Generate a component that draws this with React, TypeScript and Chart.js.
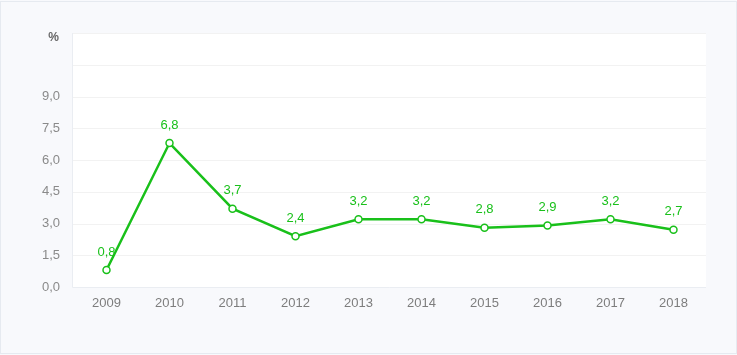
import React, { useEffect, useRef } from "react";
import { Chart, registerables } from "chart.js";

Chart.register(...registerables);

const years = ["2009", "2010", "2011", "2012", "2013", "2014", "2015", "2016", "2017", "2018"];
const values = [0.8, 6.8, 3.7, 2.4, 3.2, 3.2, 2.8, 2.9, 3.2, 2.7];
const yTicks = [0, 1.5, 3, 4.5, 6, 7.5, 9, 10.5, 12];
const yUnitLabel = "%";

const FONT = "'Liberation Sans', Arial, sans-serif";
const fmt = (v: number) => v.toFixed(1).replace(".", ",");

const bgPlugin = {
  id: "plotBg",
  beforeDraw(chart: any) {
    const { ctx, chartArea } = chart;
    const y = chart.scales.y;
    const l = chartArea.left - 3;
    const r = chartArea.right + 1;
    ctx.save();
    ctx.fillStyle = "#ffffff";
    ctx.fillRect(l, chartArea.top, r - l, chartArea.bottom - chartArea.top);
    ctx.strokeStyle = "#f2f2f2";
    ctx.lineWidth = 1;
    yTicks.forEach((t) => {
      if (t === 0) return;
      const py = Math.round(y.getPixelForValue(t)) + 0.5;
      ctx.beginPath();
      ctx.moveTo(l, py);
      ctx.lineTo(r, py);
      ctx.stroke();
    });
    ctx.strokeStyle = "#eaedf2";
    const by = Math.round(chartArea.bottom) + 0.5;
    ctx.beginPath();
    ctx.moveTo(l + 0.5, chartArea.top);
    ctx.lineTo(l + 0.5, by);
    ctx.lineTo(r, by);
    ctx.stroke();
    // unit label at the top of the axis
    ctx.fillStyle = "#666666";
    ctx.font = `bold 12px ${FONT}`;
    ctx.textAlign = "right";
    ctx.textBaseline = "middle";
    ctx.fillText(yUnitLabel, 59, chartArea.top + 5);
    ctx.restore();
  },
};

const labelPlugin = {
  id: "valueLabels",
  afterDatasetsDraw(chart: any) {
    const { ctx } = chart;
    const meta = chart.getDatasetMeta(0);
    ctx.save();
    ctx.fillStyle = "#19c01a";
    ctx.font = `13px ${FONT}`;
    ctx.textAlign = "center";
    ctx.textBaseline = "middle";
    meta.data.forEach((pt: any, i: number) => {
      ctx.fillText(fmt(values[i]), pt.x, pt.y - 18);
    });
    ctx.restore();
  },
};

export default function App() {
  const ref = useRef<HTMLCanvasElement>(null);
  useEffect(() => {
    if (!ref.current) return;
    const chart = new Chart(ref.current, {
      type: "line",
      data: {
        labels: years,
        datasets: [
          {
            data: values,
            borderColor: "#19c01a",
            borderWidth: 2.5,
            pointBackgroundColor: "#ffffff",
            pointBorderColor: "#19c01a",
            pointBorderWidth: 1.5,
            pointRadius: 3.5,
            tension: 0,
          },
        ],
      },
      options: {
        responsive: false,
        animation: false,
        layout: { padding: { top: 33, right: 32, bottom: 27, left: 0 } },
        plugins: { legend: { display: false }, tooltip: { enabled: false } },
        scales: {
          x: {
            offset: true,
            grid: { display: false, drawTicks: false },
            border: { display: false },
            ticks: {
              color: "#7d7d7d",
              padding: 9,
              font: { family: FONT, size: 13 },
            },
            afterFit(scale: any) {
              scale.height = 41;
            },
          },
          y: {
            min: 0,
            max: 12,
            grid: { display: false, drawTicks: false },
            border: { display: false },
            ticks: {
              stepSize: 1.5,
              padding: 15,
              color: "#8a8a8a",
              font: { family: FONT, size: 13 },
              callback: (v: any) => {
                const n = Number(v);
                if (n >= 10.5) return "";
                return fmt(n);
              },
            },
            afterFit(scale: any) {
              scale.width = 75;
            },
          },
        },
      },
      plugins: [bgPlugin, labelPlugin],
    });
    return () => chart.destroy();
  }, []);

  return (
    <div
      style={{
        position: "absolute",
        left: 0,
        top: 0,
        width: 737,
        height: 355,
        background: "#f8f9fc",
      }}
    >
      <div
        style={{
          position: "absolute",
          left: 0,
          top: 1,
          width: 737,
          height: 353,
          boxSizing: "border-box",
          border: "1px solid #e6eaf0",
        }}
      />
      <canvas ref={ref} width={737} height={355} style={{ position: "absolute", left: 0, top: 0 }} />
    </div>
  );
}
